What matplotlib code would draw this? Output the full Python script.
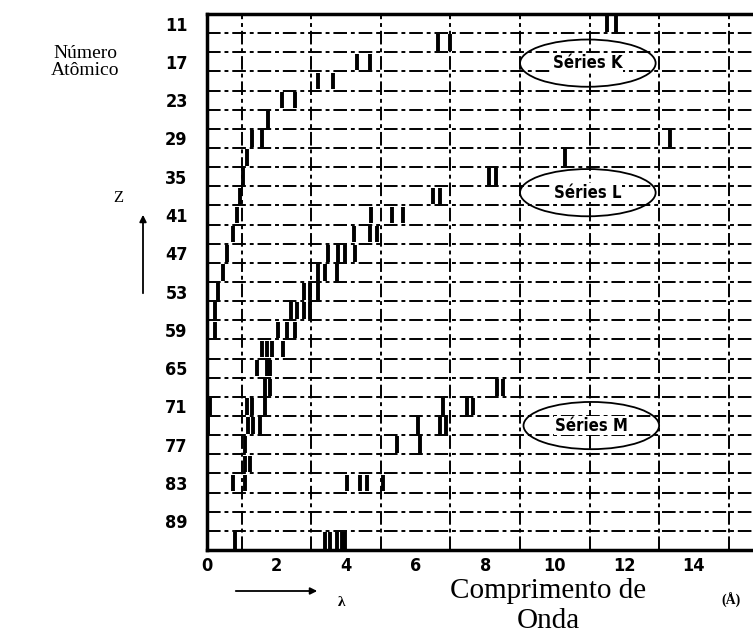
import matplotlib.pyplot as plt
from matplotlib.patches import Ellipse

# atomic number rows and wavelengths (angstrom) of the drawn lines
k_z = [11, 11, 14, 14, 17, 17, 20, 20, 23, 23, 26, 29, 29, 32, 35, 38,
       41, 44, 47, 50, 53, 56, 59, 71, 74, 83, 92]
k_x = [11.5, 11.75, 6.64, 7.0, 4.31, 4.68, 3.19, 3.62, 2.16, 2.53, 1.75, 1.29, 1.58,
       1.15, 1.03, 0.95, 0.86, 0.75, 0.57, 0.46, 0.32, 0.23, 0.23, 0.09, 0.03, 0.75, 0.8]

l_z = [29, 32, 35, 35, 38, 38, 41, 41, 41, 44, 44, 44, 47, 47, 47, 47,
       50, 50, 50, 53, 53, 53, 56, 56, 56, 56, 59, 59, 59, 62, 62, 62, 62,
       65, 65, 65, 68, 68, 71, 71, 71, 74, 74, 74, 77, 80, 80, 83]
l_x = [13.3, 10.29, 8.1, 8.3, 6.5, 6.7, 4.71, 5.32, 5.63, 4.22, 4.68, 4.89,
       3.48, 3.76, 3.97, 4.25, 3.19, 3.39, 3.74, 2.8, 2.95, 3.19, 2.4, 2.6, 2.8, 2.95,
       2.04, 2.3, 2.53, 1.58, 1.72, 1.87, 2.18, 1.44, 1.72, 1.81, 1.67, 1.81,
       1.15, 1.29, 1.67, 1.18, 1.32, 1.52, 1.09, 1.09, 1.24, 1.09]

m_z = [68, 68, 71, 71, 71, 74, 74, 74, 77, 77, 83, 83, 83, 83, 92, 92, 92, 92, 92]
m_x = [8.33, 8.5, 6.78, 7.47, 7.64, 6.06, 6.7, 6.87, 5.46, 6.12,
       4.02, 4.4, 4.6, 5.06, 3.39, 3.53, 3.74, 3.88, 3.97]

z_ticks = list(range(11, 90, 6))
x_ticks = list(range(0, 15, 2))
series_names = ["Séries K", "Séries L", "Séries M"]
series_pos = [(10.95, 17.2), (10.95, 37.5), (11.05, 74.0)]

fig = plt.figure(figsize=(7.53, 6.37), dpi=100)
ax = fig.add_axes([0.275, 0.1366, 0.725, 0.8414])
ax.set_xlim(0, 15.7)
ax.set_ylim(93.5, 9.5)

ax.set_xticks(x_ticks)
ax.set_xticks(range(1, 16), minor=True)
ax.set_yticks(z_ticks)
ax.set_yticks([9.5 + 3 * k for k in range(1, 28)], minor=True)
ax.grid(which="minor", color="black", linestyle=(0, (7, 2, 2, 2)), linewidth=1.4)
ax.grid(which="major", visible=False)
ax.tick_params(which="both", length=0)
ax.tick_params(axis="y", pad=14)
ax.tick_params(axis="x", pad=5)
for lab in ax.get_xticklabels() + ax.get_yticklabels():
    lab.set_fontweight("bold")
    lab.set_fontsize(13)
    lab.set_fontstretch("condensed")
    lab.set_family("DejaVu Sans")

for side in ["left", "top", "bottom"]:
    ax.spines[side].set_linewidth(2.5)
ax.spines["right"].set_visible(False)

for xs, zs in [(k_x, k_z), (l_x, l_z), (m_x, m_z)]:
    ax.vlines(xs, [z - 1.3 for z in zs], [z + 1.3 for z in zs], color="black", linewidth=2.8)

for name, (cx, cz) in zip(series_names, series_pos):
    ax.add_patch(Ellipse((cx, cz), 3.9, 7.4, fill=False, edgecolor="black", linewidth=1.3, zorder=3))
    ax.text(cx, cz, name, ha="center", va="center", fontsize=12, fontweight="bold",
            fontstretch="condensed", zorder=4,
            bbox=dict(facecolor="white", edgecolor="none", pad=0.5))

serif = ["Liberation Serif", "DejaVu Serif"]
fig.text(85 / 753, 1 - 62 / 637, "Número\nAtômico", ha="center", va="center",
         fontsize=14, family=serif, linespacing=1.0)
fig.text(118 / 753, 1 - 198 / 637, "Z", ha="center", va="center", fontsize=12, family=serif)
fig.add_artist(plt.Annotation("", xy=(143 / 753, 1 - 212 / 637), xytext=(143 / 753, 1 - 296 / 637),
                              xycoords="figure fraction",
                              arrowprops=dict(arrowstyle="-|>", color="black", lw=1.3)))
fig.add_artist(plt.Annotation("", xy=(320 / 753, 1 - 591 / 637), xytext=(233 / 753, 1 - 591 / 637),
                              xycoords="figure fraction",
                              arrowprops=dict(arrowstyle="-|>", color="black", lw=1.3)))
fig.text(342 / 753, 1 - 603 / 637, "λ", ha="center", va="center", fontsize=11,
         fontweight="bold", family=serif)
fig.text(548 / 753, 1 - 591 / 637, "Comprimento de", ha="center", va="center",
         fontsize=21, family=serif)
fig.text(548 / 753, 1 - 621 / 637, "Onda", ha="center", va="center", fontsize=21, family=serif)
fig.text(731 / 753, 1 - 600 / 637, "(Å)", ha="center", va="center", fontsize=10,
         fontweight="bold", family=serif)

fig.savefig("out.png", dpi=100)
